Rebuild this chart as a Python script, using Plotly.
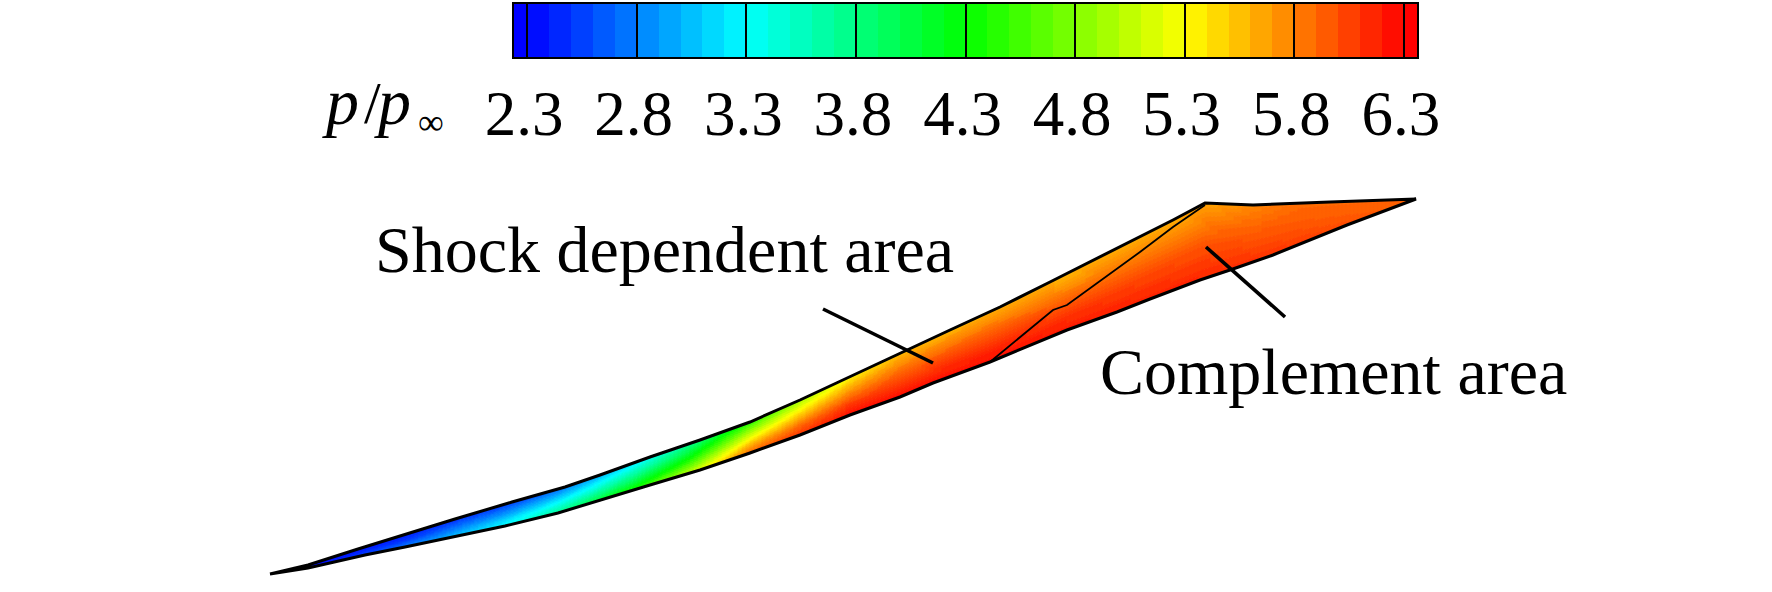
import numpy as np
import plotly.graph_objects as go

FONT = "Liberation Serif"
W, H = 1772, 592

# colour bar
level_edges = [2.24] + [round(2.3 + 0.1 * i, 1) for i in range(41)] + [6.36]
tick_vals = [2.3, 2.8, 3.3, 3.8, 4.3, 4.8, 5.3, 5.8, 6.3]
tick_text = ["2.3", "2.8", "3.3", "3.8", "4.3", "4.8", "5.3", "5.8", "6.3"]
stop_vals = [2.3, 2.8, 3.3, 3.8, 4.3, 4.8, 5.3, 5.8, 6.3]
stop_rgb = [(0, 0, 255), (0, 128, 255), (0, 255, 255), (0, 255, 128), (0, 255, 0),
            (128, 255, 0), (255, 255, 0), (255, 128, 0), (255, 0, 0)]

# surface outline (image pixel coordinates)
top_x = [270, 308, 358, 412, 455, 512, 565, 600, 650, 700, 750, 800, 850, 890, 950, 1000, 1050, 1110, 1173, 1205, 1253, 1330, 1416]
top_y = [574, 565, 549, 532, 519, 502, 487, 475, 457, 440, 422, 400, 377, 358, 330, 307, 282, 252, 220, 203, 205, 202, 199]
bot_x = [270, 308, 365, 405, 458, 505, 558, 600, 650, 700, 750, 800, 850, 900, 933, 990, 1067, 1117, 1150, 1200, 1230, 1273, 1347, 1416]
bot_y = [574, 568, 555, 547, 536, 526, 513, 500, 485, 470, 453, 435, 415, 397, 383, 362, 330, 312, 299, 280, 270, 255, 225, 199]
inner_x = [990, 1053, 1067, 1140, 1173, 1190, 1205]
inner_y = [362, 310, 305, 252, 227, 215, 205]

# pressure read at stations along the body, upper edge to lower edge
station_x = [270, 308, 365, 405, 458, 505, 540, 590, 640, 690, 750, 800, 850, 900, 990, 1070, 1205, 1300, 1416]
frac = [0.0, 0.25, 0.5, 0.75, 1.0]
p_table = [
    [2.3, 2.3, 2.3, 2.3, 2.3],
    [2.3, 2.32, 2.33, 2.34, 2.35],
    [2.35, 2.4, 2.45, 2.5, 2.55],
    [2.4, 2.45, 2.5, 2.65, 2.75],
    [2.45, 2.6, 2.75, 2.9, 3.05],
    [2.5, 2.7, 2.9, 3.15, 3.3],
    [2.6, 2.85, 3.1, 3.35, 3.55],
    [2.9, 3.15, 3.4, 3.7, 4.0],
    [3.2, 3.5, 3.8, 4.1, 4.45],
    [3.7, 4.0, 4.3, 4.65, 5.05],
    [4.4, 4.8, 5.2, 5.6, 5.9],
    [4.9, 5.25, 5.6, 5.9, 6.1],
    [5.3, 5.6, 5.85, 6.1, 6.25],
    [5.55, 5.75, 5.95, 6.1, 6.25],
    [5.6, 5.8, 6.0, 6.15, 6.25],
    [5.6, 5.75, 5.95, 6.1, 6.2],
    [5.65, 5.8, 5.95, 6.05, 6.15],
    [5.88, 5.92, 5.95, 6.0, 6.08],
    [5.9, 5.9, 5.9, 5.9, 5.9],
]

# leader lines and labels
lead1_x, lead1_y = [823, 933], [309, 363]
lead2_x, lead2_y = [1206, 1285], [247, 317]
label_text = ["Shock dependent area", "Complement area"]
label_x = [373, 1098]
label_y = [272, 394]


def rgb_of(v):
    return [float(np.interp(v, stop_vals, [c[i] for c in stop_rgb])) for i in range(3)]


fig = go.Figure()

# render the surface as small quads grouped by pressure level
xs = np.arange(270, 1417, 4.0)
ys_t = np.interp(xs, top_x, top_y)
ys_b = np.interp(xs, bot_x, bot_y)
fr = np.linspace(0, 1, 17)
table = np.array(p_table)
pf = np.array([np.interp(xs, station_x, table[:, j]) for j in range(len(frac))])
field = np.array([[np.interp(f, frac, pf[:, i]) for f in fr] for i in range(len(xs))])
bins = {}
for i in range(len(xs) - 1):
    for j in range(len(fr) - 1):
        v = field[i:i + 2, j:j + 2].mean()
        key = round(v * 25) / 25
        xa, xb = xs[i], xs[i + 1]
        ya = ys_t[i] + (ys_b[i] - ys_t[i]) * fr[j]
        yb = ys_t[i] + (ys_b[i] - ys_t[i]) * fr[j + 1]
        yc = ys_t[i + 1] + (ys_b[i + 1] - ys_t[i + 1]) * fr[j + 1]
        yd = ys_t[i + 1] + (ys_b[i + 1] - ys_t[i + 1]) * fr[j]
        b = bins.setdefault(key, ([], []))
        b[0].extend([xa, xa, xb, xb, xa, None])
        b[1].extend([ya, yb, yc, yd, ya, None])
for key in sorted(bins):
    r, g, bl = rgb_of(key)
    col = f"rgb({r:.0f},{g:.0f},{bl:.0f})"
    fig.add_trace(go.Scatter(x=bins[key][0], y=bins[key][1], mode="lines", fill="toself",
                             fillcolor=col, line=dict(color=col, width=0.8), hoverinfo="skip",
                             showlegend=False, xaxis="x", yaxis="y"))

# outlines
fig.add_trace(go.Scatter(x=top_x + bot_x[::-1], y=top_y + bot_y[::-1], mode="lines",
                         line=dict(color="black", width=3), showlegend=False))
fig.add_trace(go.Scatter(x=inner_x, y=inner_y, mode="lines",
                         line=dict(color="black", width=1.8), showlegend=False))
for lx, ly in [(lead1_x, lead1_y), (lead2_x, lead2_y)]:
    fig.add_trace(go.Scatter(x=lx, y=ly, mode="lines",
                             line=dict(color="black", width=3.6), showlegend=False))

# colour bar
mids = [(a + b) / 2 for a, b in zip(level_edges[:-1], level_edges[1:])]
mids[0], mids[-1] = 2.3, 6.3
zmin, zmax = stop_vals[0], stop_vals[-1]
cscale = [[(v - zmin) / (zmax - zmin), f"rgb{c}"] for v, c in zip(stop_vals, stop_rgb)]
fig.add_trace(go.Heatmap(x=level_edges, y=[0, 1], z=[mids], xaxis="x2", yaxis="y2",
                         colorscale=cscale, zmin=zmin, zmax=zmax, showscale=False, hoverinfo="skip"))

for t, x, y in zip(label_text, label_x, label_y):
    fig.add_annotation(x=x, y=y, xref="x", yref="y", text=t, showarrow=False, xanchor="left",
                       yanchor="bottom", yshift=-16, font=dict(family=FONT, size=66, color="black"))
fig.add_annotation(x=320, y=140, xref="x", yref="y", text="<i>p</i>", showarrow=False, xanchor="left",
                   yanchor="bottom", font=dict(family=FONT, size=66, color="black"))
fig.add_annotation(x=362, y=138, xref="x", yref="y", text="/", showarrow=False, xanchor="left",
                   yanchor="bottom", font=dict(family=FONT, size=60, color="black"))
fig.add_annotation(x=372, y=140, xref="x", yref="y", text="<i>p</i>", showarrow=False, xanchor="left",
                   yanchor="bottom", font=dict(family=FONT, size=66, color="black"))
fig.add_annotation(x=416, y=144, xref="x", yref="y", text="∞", showarrow=False, xanchor="left",
                   yanchor="bottom", font=dict(family=FONT, size=36, color="black"))

fig.update_layout(
    width=W, height=H, margin=dict(l=0, r=0, t=0, b=0, pad=0, autoexpand=False), paper_bgcolor="white",
    plot_bgcolor="rgba(0,0,0,0)", showlegend=False,
    xaxis=dict(domain=[0, 1], range=[0, W], visible=False, fixedrange=True),
    yaxis=dict(domain=[0, 1], range=[H, 0], visible=False, fixedrange=True),
    xaxis2=dict(domain=[514 / W, 1417 / W], range=[2.24, 6.36], anchor="y2", tickmode="array",
                tickvals=tick_vals, ticktext=tick_text, ticks="inside", ticklen=54, tickwidth=2,
                tickcolor="black", showline=True, linecolor="black", linewidth=2, mirror=True,
                showgrid=False, zeroline=False, ticklabelstandoff=0, ticklabelshift=-3,
                tickfont=dict(family=FONT, size=63, color="black"), layer="above traces"),
    yaxis2=dict(domain=[1 - 57 / H, 1 - 4 / H], range=[0, 1], anchor="x2", showline=True, linecolor="black",
                linewidth=2, mirror=True, showticklabels=False, ticks="", showgrid=False, zeroline=False),
)
fig.write_html("out.html", config={"displayModeBar": False}, post_script="document.body.style.margin='0';")
